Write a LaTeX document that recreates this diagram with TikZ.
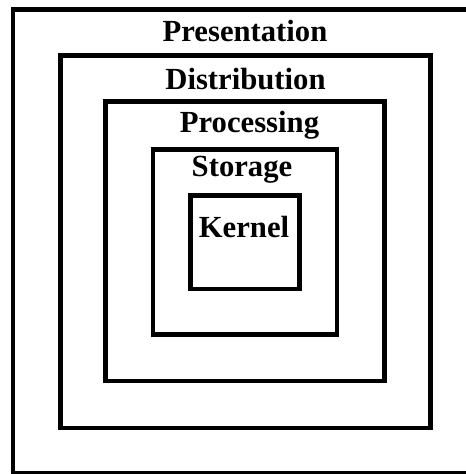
\documentclass[tikz,border=0pt]{standalone}
\usepackage{fontspec}
\setmainfont{Liberation Serif}
\begin{document}
\begin{tikzpicture}[x=1bp,y=-1bp,
  layer/.style={draw=black,line width=4.6bp,fill=none},
  lbl/.style={anchor=base,inner sep=0pt,font=\fontsize{30.8}{34}\selectfont\bfseries}]
\useasboundingbox (0,0) rectangle (466,474);
\fill[white] (0,0) rectangle (466,474);
\draw[layer,line width=4.2bp] (13,9.5) rectangle (472,473.5);
\draw[layer] (60.5,55.5) rectangle (430.5,428);
\draw[layer] (105.5,101.5) rectangle (384.5,381);
\draw[layer] (153,149.5) rectangle (337,334.5);
\draw[layer] (190.5,195.5) rectangle (299.5,289);
\node[lbl] (presentation) at (245,42) {Presentation};
\node[lbl] (distribution) at (245.5,90) {Distribution};
\node[lbl] (processing) at (249.5,133) {Processing};
\node[lbl] (storage) at (242,177) {Storage};
\node[lbl] (kernel) at (244,237) {Kernel};
\end{tikzpicture}
\end{document}
